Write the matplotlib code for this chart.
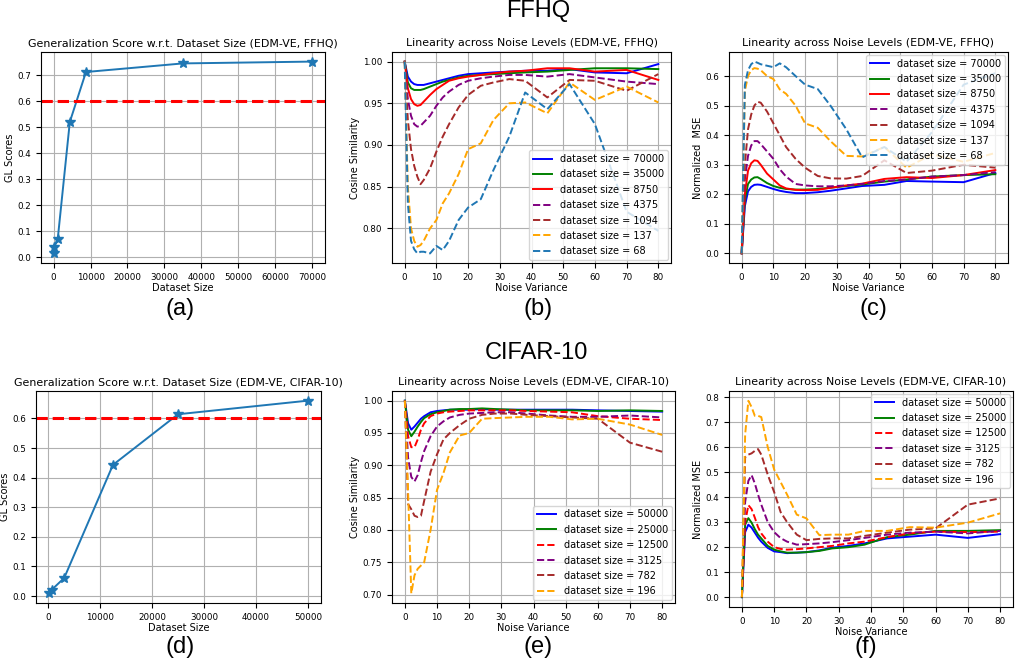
import matplotlib
matplotlib.use('Agg')
import matplotlib.pyplot as plt
import numpy as np

# noise variance grid shared by the linearity curves
noise = [0, 1, 2, 3, 4, 5, 6, 8, 10, 12, 14, 17, 20, 24, 28, 33, 38, 45, 52, 60, 70, 80]

# ---- FFHQ ----
ffhq_sizes = [68, 137, 1094, 4375, 8750, 35000, 70000]
ffhq_gl = [0.015, 0.038, 0.069, 0.52, 0.712, 0.745, 0.752]

ffhq_labels = ['70000', '35000', '8750', '4375', '1094', '137', '68']
ffhq_cos = [
    [1.0, 0.982, 0.976, 0.973, 0.972, 0.972, 0.972, 0.974, 0.976, 0.978, 0.980, 0.983, 0.985, 0.986, 0.987, 0.988, 0.989, 0.989, 0.991, 0.987, 0.986, 0.997],
    [1.0, 0.975, 0.968, 0.966, 0.966, 0.966, 0.967, 0.970, 0.973, 0.976, 0.978, 0.981, 0.983, 0.984, 0.985, 0.986, 0.987, 0.988, 0.990, 0.992, 0.992, 0.991],
    [1.0, 0.968, 0.955, 0.949, 0.947, 0.948, 0.952, 0.960, 0.967, 0.972, 0.977, 0.980, 0.982, 0.984, 0.986, 0.988, 0.989, 0.992, 0.992, 0.988, 0.990, 0.978],
    [1.0, 0.955, 0.935, 0.925, 0.922, 0.923, 0.927, 0.935, 0.947, 0.957, 0.964, 0.972, 0.977, 0.980, 0.982, 0.984, 0.984, 0.982, 0.985, 0.981, 0.976, 0.973],
    [1.0, 0.930, 0.895, 0.875, 0.862, 0.853, 0.858, 0.872, 0.892, 0.910, 0.925, 0.945, 0.960, 0.971, 0.975, 0.979, 0.977, 0.957, 0.978, 0.977, 0.965, 0.985],
    [1.0, 0.850, 0.800, 0.785, 0.778, 0.780, 0.785, 0.800, 0.810, 0.830, 0.842, 0.865, 0.895, 0.902, 0.930, 0.950, 0.951, 0.938, 0.975, 0.954, 0.970, 0.951],
    [1.0, 0.830, 0.785, 0.775, 0.770, 0.772, 0.772, 0.770, 0.779, 0.774, 0.785, 0.810, 0.825, 0.835, 0.870, 0.910, 0.963, 0.943, 0.973, 0.925, 0.820, 0.797],
]
ffhq_mse = [
    [0.0, 0.16, 0.21, 0.225, 0.232, 0.233, 0.232, 0.225, 0.218, 0.212, 0.208, 0.204, 0.204, 0.207, 0.212, 0.220, 0.228, 0.232, 0.245, 0.243, 0.241, 0.272],
    [0.0, 0.18, 0.235, 0.25, 0.257, 0.258, 0.252, 0.238, 0.228, 0.222, 0.218, 0.216, 0.216, 0.218, 0.222, 0.228, 0.233, 0.243, 0.250, 0.260, 0.265, 0.268],
    [0.0, 0.20, 0.28, 0.305, 0.315, 0.313, 0.300, 0.270, 0.250, 0.230, 0.220, 0.215, 0.214, 0.215, 0.222, 0.230, 0.236, 0.252, 0.258, 0.255, 0.265, 0.282],
    [0.0, 0.25, 0.33, 0.365, 0.380, 0.380, 0.370, 0.345, 0.320, 0.285, 0.260, 0.235, 0.230, 0.227, 0.227, 0.230, 0.235, 0.245, 0.250, 0.260, 0.265, 0.275],
    [0.0, 0.30, 0.42, 0.47, 0.500, 0.513, 0.510, 0.480, 0.440, 0.400, 0.360, 0.320, 0.290, 0.262, 0.254, 0.253, 0.262, 0.315, 0.272, 0.280, 0.300, 0.290],
    [0.0, 0.55, 0.60, 0.62, 0.627, 0.625, 0.620, 0.600, 0.590, 0.555, 0.540, 0.500, 0.440, 0.425, 0.380, 0.330, 0.328, 0.360, 0.290, 0.335, 0.310, 0.340],
    [0.0, 0.57, 0.62, 0.64, 0.649, 0.645, 0.640, 0.635, 0.630, 0.643, 0.630, 0.600, 0.571, 0.556, 0.500, 0.420, 0.325, 0.360, 0.310, 0.410, 0.571, 0.610],
]

# ---- CIFAR-10 ----
cifar_sizes = [196, 782, 3125, 12500, 25000, 50000]
cifar_gl = [0.009, 0.022, 0.061, 0.443, 0.614, 0.660]

cifar_labels = ['50000', '25000', '12500', '3125', '782', '196']
cifar_cos = [
    [1.0, 0.965, 0.955, 0.960, 0.966, 0.972, 0.976, 0.982, 0.984, 0.985, 0.986, 0.986, 0.986, 0.987, 0.986, 0.986, 0.986, 0.986, 0.986, 0.985, 0.984, 0.983],
    [1.0, 0.955, 0.945, 0.952, 0.960, 0.967, 0.973, 0.979, 0.982, 0.984, 0.986, 0.987, 0.987, 0.988, 0.987, 0.986, 0.985, 0.985, 0.985, 0.984, 0.985, 0.984],
    [1.0, 0.945, 0.928, 0.928, 0.940, 0.955, 0.965, 0.976, 0.980, 0.982, 0.983, 0.984, 0.985, 0.985, 0.985, 0.985, 0.984, 0.983, 0.982, 0.976, 0.972, 0.970],
    [1.0, 0.912, 0.882, 0.875, 0.885, 0.905, 0.922, 0.945, 0.960, 0.968, 0.974, 0.978, 0.980, 0.981, 0.982, 0.982, 0.980, 0.977, 0.975, 0.975, 0.977, 0.974],
    [1.0, 0.840, 0.832, 0.822, 0.820, 0.822, 0.845, 0.890, 0.917, 0.940, 0.950, 0.962, 0.972, 0.978, 0.980, 0.980, 0.978, 0.976, 0.974, 0.972, 0.935, 0.921],
    [1.0, 0.860, 0.702, 0.730, 0.740, 0.745, 0.750, 0.800, 0.862, 0.888, 0.920, 0.946, 0.950, 0.972, 0.973, 0.974, 0.975, 0.975, 0.971, 0.972, 0.963, 0.947],
]
cifar_mse = [
    [0.0, 0.26, 0.290, 0.278, 0.258, 0.238, 0.222, 0.197, 0.183, 0.180, 0.176, 0.178, 0.180, 0.187, 0.198, 0.205, 0.215, 0.235, 0.242, 0.250, 0.237, 0.252],
    [0.0, 0.29, 0.316, 0.298, 0.272, 0.250, 0.235, 0.205, 0.190, 0.183, 0.178, 0.178, 0.180, 0.185, 0.195, 0.200, 0.210, 0.240, 0.250, 0.265, 0.265, 0.268],
    [0.0, 0.30, 0.368, 0.352, 0.318, 0.280, 0.255, 0.222, 0.200, 0.193, 0.190, 0.192, 0.195, 0.200, 0.205, 0.215, 0.222, 0.240, 0.255, 0.262, 0.260, 0.262],
    [0.0, 0.38, 0.465, 0.488, 0.455, 0.410, 0.370, 0.300, 0.260, 0.236, 0.222, 0.210, 0.212, 0.215, 0.220, 0.228, 0.237, 0.250, 0.258, 0.262, 0.255, 0.265],
    [0.0, 0.56, 0.570, 0.575, 0.585, 0.592, 0.570, 0.490, 0.420, 0.340, 0.300, 0.250, 0.228, 0.233, 0.235, 0.235, 0.245, 0.258, 0.270, 0.275, 0.370, 0.395],
    [0.0, 0.65, 0.785, 0.760, 0.725, 0.725, 0.720, 0.600, 0.510, 0.460, 0.410, 0.330, 0.315, 0.248, 0.250, 0.250, 0.265, 0.265, 0.280, 0.278, 0.298, 0.335],
]

ffhq_styles = [('blue', '-'), ('green', '-'), ('red', '-'), ('purple', '--'),
               ('brown', '--'), ('orange', '--'), ('tab:blue', '--')]
cifar_styles = [('blue', '-'), ('green', '-'), ('red', '--'), ('purple', '--'),
                ('brown', '--'), ('orange', '--')]

plt.rcParams['font.size'] = 7
plt.rcParams['axes.titlesize'] = 7.9
plt.rcParams['xtick.labelsize'] = 6.3
plt.rcParams['ytick.labelsize'] = 6.3

W, H = 1019, 665
fig = plt.figure(figsize=(W / 100, H / 100), dpi=100)


def px_axes(left, right, top, bottom):
    # axes box given in pixel coords of the figure
    return fig.add_axes([left / W, 1 - bottom / H, (right - left) / W, (bottom - top) / H])


def gl_plot(ax, sizes, scores, name):
    ax.plot(sizes, scores, marker='*', markersize=7.5, color='tab:blue', linewidth=1.4)
    ax.axhline(0.6, color='red', linestyle='--', linewidth=2.2)
    ax.set_title('Generalization Score w.r.t. Dataset Size (EDM-VE, %s)' % name, pad=4)
    ax.set_xlabel('Dataset Size', labelpad=1)
    ax.set_ylabel('GL Scores', labelpad=2)
    ax.grid(True)


def lin_plot(ax, curves, labels, styles, name, ylabel, loc):
    for vals, lab, (c, ls) in zip(curves, labels, styles):
        ax.plot(noise, vals, color=c, linestyle=ls, linewidth=1.4,
                label='dataset size = ' + lab)
    ax.set_title('Linearity across Noise Levels (EDM-VE, %s)' % name, pad=4)
    ax.set_xlabel('Noise Variance', labelpad=1)
    ax.set_ylabel(ylabel, labelpad=2)
    ax.set_xticks(range(0, 81, 10))
    ax.grid(True)
    ax.legend(loc=loc, fontsize=7, handlelength=2.0, labelspacing=0.55,
              borderaxespad=0.3)


ax_a = px_axes(41, 325, 52, 263)
gl_plot(ax_a, ffhq_sizes, ffhq_gl, 'FFHQ')
ax_b = px_axes(392, 671, 52, 263)
lin_plot(ax_b, ffhq_cos, ffhq_labels, ffhq_styles, 'FFHQ', 'Cosine Similarity', 'lower right')
ax_c = px_axes(729, 1008, 52, 263)
lin_plot(ax_c, ffhq_mse, ffhq_labels, ffhq_styles, 'FFHQ', 'Normalized  MSE', 'upper right')

ax_d = px_axes(36, 321, 391, 603)
gl_plot(ax_d, cifar_sizes, cifar_gl, 'CIFAR-10')
ax_e = px_axes(392, 675, 391, 603)
lin_plot(ax_e, cifar_cos, cifar_labels, cifar_styles, 'CIFAR-10', 'Cosine Similarity', 'lower right')
ax_f = px_axes(729, 1013, 391, 607)
lin_plot(ax_f, cifar_mse, cifar_labels, cifar_styles, 'CIFAR-10', 'Normalized MSE', 'upper right')

# row headers and panel letters
big = dict(fontsize=17, family='Liberation Sans', ha='center', va='center')
fig.text(538 / W, 1 - 11 / H, 'FFHQ', **big)
fig.text(536 / W, 1 - 353 / H, 'CIFAR-10', **big)
for x, y, s in [(180, 309, '(a)'), (538, 309, '(b)'), (873, 309, '(c)'),
                (180, 647, '(d)'), (538, 647, '(e)'), (866, 647, '(f)')]:
    fig.text(x / W, 1 - y / H, s, **big)

fig.savefig('out.png', dpi=100)
